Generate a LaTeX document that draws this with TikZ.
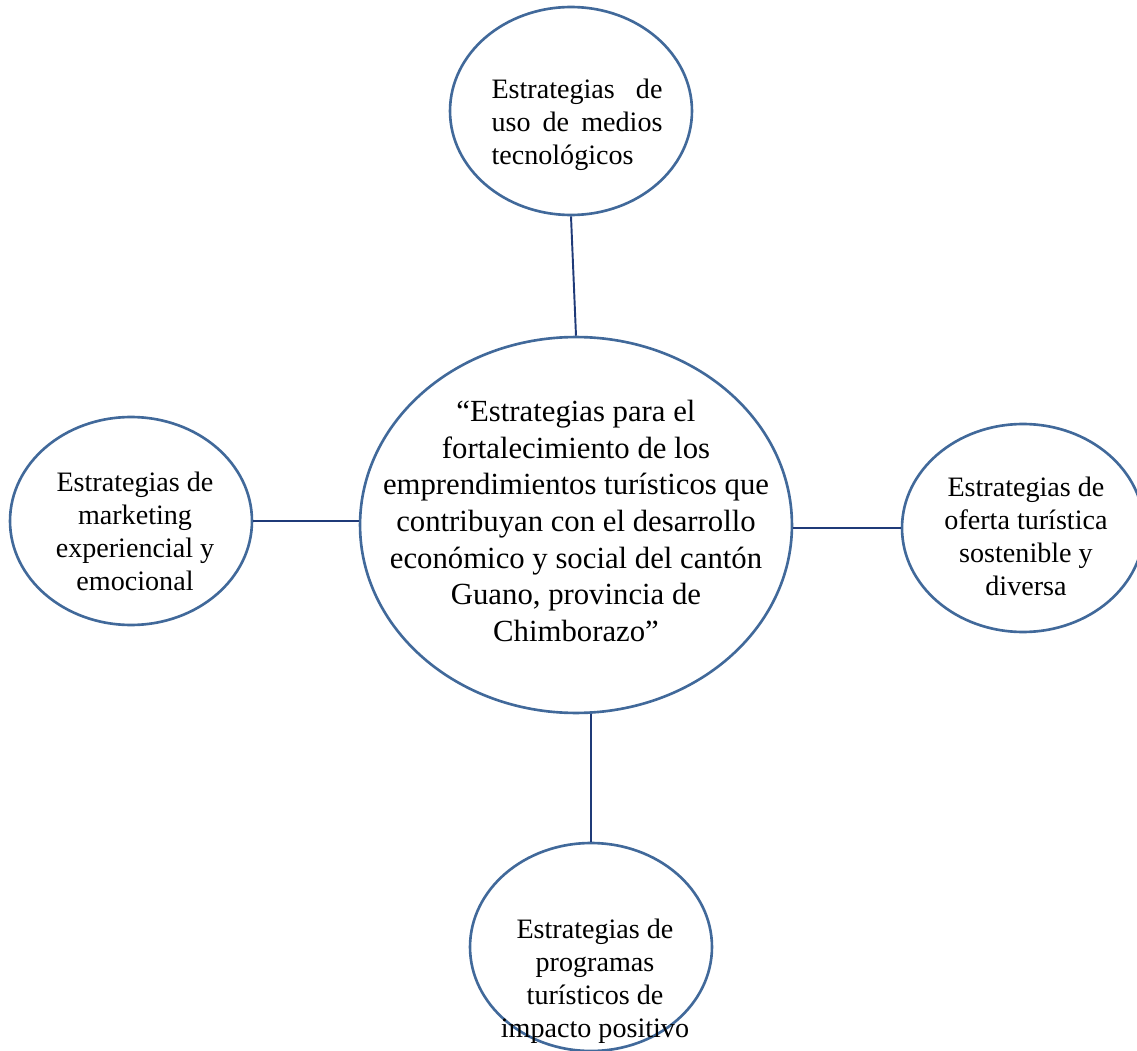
\documentclass[tikz,border=0pt]{standalone}
\usepackage{fontspec}
\setmainfont{Liberation Serif}
\usetikzlibrary{shapes.geometric}
\definecolor{rim}{HTML}{41699A}
\definecolor{navy}{HTML}{1F3A78}

\begin{document}
\begin{tikzpicture}[x=0.02cm,y=-0.02cm,
  bubble/.style={ellipse,draw=rim,line width=1.5pt,inner sep=0pt,
    minimum width=4.84cm,minimum height=4.16cm},
  hub/.style={bubble,minimum width=8.64cm,minimum height=7.52cm},
  txt/.style={align=center,inner sep=0pt,font=\fontsize{16}{18.8}\selectfont},
  link/.style={draw=navy,line width=1.1pt}]
  \useasboundingbox (0,0) rectangle (1137,1051);

  % ellipses
  \node[hub](main) at (576,525) {};
  \node[bubble](tech) at (571,111) {};
  \node[bubble](mkt) at (131,521) {};
  \node[bubble](offer) at (1023,528) {};
  \node[bubble](prog) at (591,947) {};

  % texts
  \node[txt,font=\fontsize{17.5}{20.9}\selectfont](main-t) at (576,521)
    {“Estrategias para el\\fortalecimiento de los\\emprendimientos turísticos que\\contribuyan con el desarrollo\\económico y social del cantón\\Guano, provincia de\\Chimborazo”};
  \node[txt,text width=3.42cm,align=left](tech-t) at (577,125)
    {Estrategias\hfill de\\uso\hfill de\hfill medios\\tecnológicos};
  \node[txt](mkt-t) at (135,531) {Estrategias de\\marketing\\experiencial y\\emocional};
  \node[txt](offer-t) at (1026,536) {Estrategias de\\oferta turística\\sostenible y\\diversa};
  \node[txt](prog-t) at (595,981) {Estrategias de\\programas\\turísticos de\\impacto positivo};

  % links
  \draw[link] (tech.south) -- (main.north);
  \draw[link] (mkt.east) -- (mkt.east -| main.west);
  \draw[link] (offer.west -| main.east) -- (offer.west);
  \draw[link] (prog.north) -- (prog.north |- main.south);
\end{tikzpicture}
\end{document}
